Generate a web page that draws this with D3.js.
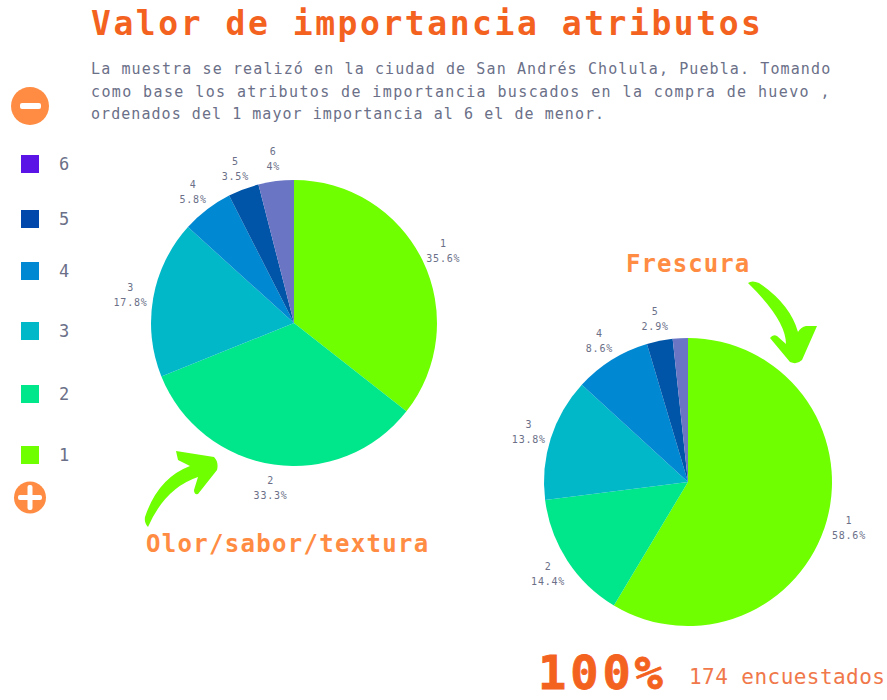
<!DOCTYPE html>
<html><head><meta charset="utf-8">
<script src="https://cdn.jsdelivr.net/npm/d3@7/dist/d3.min.js"></script>
<style>html,body{margin:0;background:#fff}svg{display:block}text{font-family:"DejaVu Sans Mono","Liberation Mono",monospace}</style>
</head><body><div id="c"></div>
<script>
const categories = ["1","2","3","4","5","6"];
const valuesOlor = [35.6,33.3,17.8,5.8,3.5,4];
const valuesFrescura = [58.6,14.4,13.8,8.6,2.9,1.7];
const labelsOlor = ["35.6%","33.3%","17.8%","5.8%","3.5%","4%"];
const labelsFrescura = ["58.6%","14.4%","13.8%","8.6%","2.9%",""];
const sliceColors = ["#6fff00","#00e68a","#00b8c8","#0088d2","#0055a8","#6a75c4"];
const legendColors = ["#6fff00","#00e68a","#00b8c8","#0088d2","#0047ab","#5a14e6"];
const legendY = [455,394,331,271,219,164];
const subtitle = ["La muestra se realizó en la ciudad de San Andrés Cholula, Puebla. Tomando",
 "como base los atributos de importancia buscados en la compra de huevo ,",
 "ordenados del 1 mayor importancia al 6 el de menor."];
const subtitleSpacing = [1.11,1.39,1.05];

const svg = d3.select("#c").append("svg").attr("width",887).attr("height",700);
const orange="#f4621f", soft="#ff8c42", gray="#6b7088";

function txt(x,y,s,size,fill,weight,ls,anchor){
  return svg.append("text").attr("x",x).attr("y",y).text(s)
    .attr("font-size",size).attr("fill",fill).attr("font-weight",weight||"normal")
    .attr("letter-spacing",ls||0).attr("text-anchor",anchor||"start");
}
txt(91,35,"Valor de importancia atributos",33,orange,"bold",2.55);
subtitle.forEach((s,i)=>txt(91,74+i*22.5,s,15,gray,"normal",subtitleSpacing[i]));

function pie(cx,cy,r,vals,labs){
  const g=svg.append("g").attr("transform",`translate(${cx},${cy})`);
  const arcs=d3.pie().sort(null)(vals);
  const arc=d3.arc().innerRadius(0).outerRadius(r);
  const la=d3.arc().innerRadius(r+23).outerRadius(r+23);
  g.selectAll("path").data(arcs).join("path").attr("d",arc).attr("fill",(d,i)=>sliceColors[i]);
  arcs.forEach((d,i)=>{
    if(!labs[i])return;
    const [x,y]=la.centroid(d);
    [categories[i],labs[i]].forEach((t,k)=>g.append("text").attr("x",x).attr("y",y-3+k*15)
      .attr("text-anchor","middle").attr("font-size",10).attr("letter-spacing",0.8).attr("fill",gray).text(t));
  });
}
pie(294,323,143,valuesOlor,labelsOlor);
pie(688,482,144,valuesFrescura,labelsFrescura);

categories.forEach((c,i)=>{
  svg.append("rect").attr("x",21).attr("y",legendY[i]-9).attr("width",18).attr("height",18).attr("fill",legendColors[i]);
  txt(59,legendY[i]+6,c,17,gray);
});
// icons
svg.append("circle").attr("cx",30).attr("cy",106).attr("r",19).attr("fill",soft);
svg.append("rect").attr("x",20).attr("y",103).attr("width",21).attr("height",6).attr("rx",2).attr("fill","#fff");
svg.append("circle").attr("cx",30).attr("cy",497.5).attr("r",16).attr("fill",soft);
svg.append("rect").attr("x",18).attr("y",495).attr("width",24).attr("height",5).attr("rx",2).attr("fill","#fff");
svg.append("rect").attr("x",27.5).attr("y",485).attr("width",5).attr("height",25).attr("rx",2).attr("fill","#fff");
// arrows (hand-drawn decoration)
svg.append("path").attr("fill","#6fff00").attr("d","M748,283 Q752,280 759,283 Q790,304 798,332 Q801,327 806,326 L817,326 L802,360 Q797,365 790,362 L770,338 Q773,334 777,336 L786,344 Q786,320 748,283 Z");
svg.append("path").attr("fill","#6fff00").attr("d","M148,527 Q144,523 145,517 Q158,478 190,466 L178,460 L176,451 L214,457 Q219,462 217,470 L198,494 Q194,495 194,490 L198,477 Q165,488 148,527 Z");
// annotations
txt(626,272,"Frescura",24,soft,"bold",1.1);
txt(146,552,"Olor/sabor/textura",24,soft,"bold",1.3);
txt(538,689,"100%",47,orange,"bold",3.9).attr("stroke",orange).attr("stroke-width",0.8);
txt(689,684,"174 encuestados",21,"#f0784a","normal",0.45);
</script></body></html>
